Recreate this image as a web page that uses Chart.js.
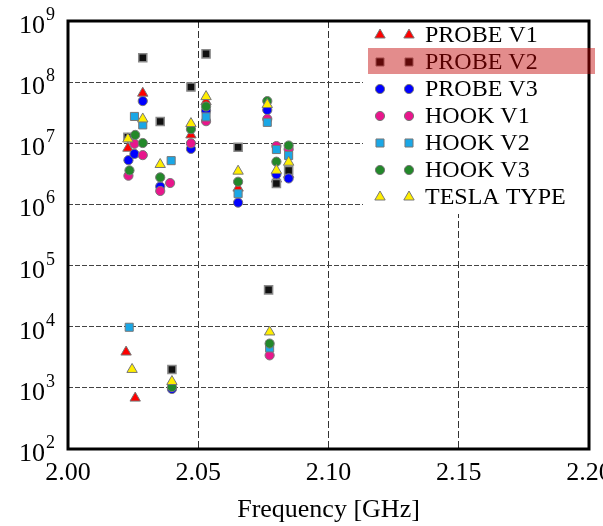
<!DOCTYPE html>
<html>
<head>
<meta charset="utf-8">
<script src="https://cdn.jsdelivr.net/npm/chart.js@4"></script>
<style>
  html, body { margin: 0; padding: 0; background: #fff; }
</style>
</head>
<body>
<canvas id="chart" width="603" height="526"></canvas>
<script>
// Values (frequency in GHz, quality factor)
const seriesNames = ['PROBE V1', 'PROBE V2', 'PROBE V3', 'HOOK V1', 'HOOK V2', 'HOOK V3', 'TESLA TYPE'];

const probeV1Freq = [2.0223, 2.0258, 2.0230, 2.0287, 2.0472, 2.0530, 2.0653, 2.0800, 2.0847];
const probeV1Q    = [3.85e3, 6.8e2, 8.3e6, 6.6e7, 1.37e7, 4.8e7, 1.85e6, 2.6e6, 3.1e6];

const probeV2Freq = [2.0230, 2.0287, 2.0354, 2.0399, 2.0472, 2.0530, 2.0653, 2.0770, 2.0800, 2.0847];
const probeV2Q    = [1.25e7, 2.5e8, 2.27e7, 2.0e3, 8.3e7, 2.9e8, 8.6e6, 4.0e4, 2.2e6, 3.6e6];

const probeV3Freq = [2.0232, 2.0255, 2.0287, 2.0354, 2.0399, 2.0472, 2.0530, 2.0653, 2.0765, 2.0800, 2.0847];
const probeV3Q    = [5.3e6, 6.7e6, 4.9e7, 1.96e6, 9.6e2, 8.1e6, 3.4e7, 1.07e6, 3.5e7, 3.1e6, 2.66e6];

const hookV1Freq = [2.0232, 2.0255, 2.0287, 2.0354, 2.0392, 2.0472, 2.0530, 2.0765, 2.0774, 2.0800, 2.0847];
const hookV1Q    = [2.95e6, 9.8e6, 6.4e6, 1.66e6, 2.24e6, 1.0e7, 2.3e7, 2.5e7, 3.4e3, 9.0e6, 8.0e6];

const hookV2Freq = [2.0235, 2.0255, 2.0287, 2.0396, 2.0530, 2.0653, 2.0765, 2.0774, 2.0800, 2.0847];
const hookV2Q    = [9.8e3, 2.75e7, 2.0e7, 5.2e6, 2.7e7, 1.5e6, 2.2e7, 4.5e3, 7.9e6, 6.3e6];

const hookV3Freq = [2.0236, 2.0258, 2.0287, 2.0354, 2.0399, 2.0472, 2.0530, 2.0653, 2.0765, 2.0774, 2.0800, 2.0847];
const hookV3Q    = [3.6e6, 1.37e7, 1.01e7, 2.77e6, 1.03e3, 1.7e7, 4.0e7, 2.35e6, 4.9e7, 5.3e3, 5.0e6, 9.2e6];

const teslaFreq = [2.0230, 2.0246, 2.0287, 2.0354, 2.0399, 2.0472, 2.0530, 2.0653, 2.0765, 2.0774, 2.0800, 2.0847];
const teslaQ    = [1.18e7, 2.0e3, 2.5e7, 4.5e6, 1.27e3, 2.1e7, 5.8e7, 3.5e6, 4.3e7, 8.2e3, 3.6e6, 4.9e6];

const decadeTicks = [1e2, 1e3, 1e4, 1e5, 1e6, 1e7, 1e8, 1e9];
const decadeExp   = ['2', '3', '4', '5', '6', '7', '8', '9'];
const freqTicks   = [2.00, 2.05, 2.10, 2.15, 2.20];

const SERIF = '"Liberation Serif", "DejaVu Serif", serif';

// marker look for each series
const markers = [
    { style: 'triangle', radius: 6,   fill: '#ff0000', border: '#777777' },
    { style: 'rect',     radius: 5.7, fill: '#111111', border: '#8a8a8a' },
    { style: 'circle',   radius: 4.6, fill: '#0000ff', border: '#777777' },
    { style: 'circle',   radius: 4.6, fill: '#e8168c', border: '#777777' },
    { style: 'rect',     radius: 5.7, fill: '#1aa7e6', border: '#777777' },
    { style: 'circle',   radius: 4.6, fill: '#23882a', border: '#777777' },
    { style: 'triangle', radius: 6,   fill: '#ffee00', border: '#777777' }
];

const allFreq = [probeV1Freq, probeV2Freq, probeV3Freq, hookV1Freq, hookV2Freq, hookV3Freq, teslaFreq];
const allQ = [probeV1Q, probeV2Q, probeV3Q, hookV1Q, hookV2Q, hookV3Q, teslaQ];

const datasets = seriesNames.map((name, i) => ({
    label: name,
    data: allFreq[i].map((f, j) => ({ x: f, y: allQ[i][j] })),
    pointStyle: markers[i].style,
    pointRadius: markers[i].radius,
    pointHoverRadius: markers[i].radius,
    backgroundColor: markers[i].fill,
    borderColor: markers[i].border,
    borderWidth: i === 1 ? 1.5 : 1,
    showLine: false,
    order: seriesNames.length - i   // later series drawn on top
}));

// frame, y labels with exponents and the legend box
const decorPlugin = {
    id: 'decor',
    afterDraw(chart) {
        const ctx = chart.ctx;
        const area = chart.chartArea;
        const yScale = chart.scales.y;

        ctx.save();
        // y tick labels 10^n
        ctx.fillStyle = '#000';
        decadeTicks.forEach((v, i) => {
            const y = yScale.getPixelForValue(v);
            ctx.font = '26px ' + SERIF;
            ctx.textAlign = 'right';
            ctx.textBaseline = 'alphabetic';
            ctx.fillText('10', 45, y + 12);
            ctx.font = '18px ' + SERIF;
            ctx.textAlign = 'left';
            ctx.fillText(decadeExp[i], 46, y - 1);
        });

        // legend
        const lx = 363, ly = area.top + 1, lw = area.right - 364, lh = 192;
        ctx.fillStyle = '#fff';
        ctx.fillRect(lx, ly, lw, lh);
        seriesNames.forEach((name, i) => {
            const cy = 35 + i * 27;
            const m = markers[i];
            ctx.fillStyle = m.fill;
            ctx.strokeStyle = m.border;
            ctx.lineWidth = 1;
            [380, 409].forEach(px => {
                Chart.helpers.drawPoint(ctx, {
                    pointStyle: m.style, radius: m.radius, rotation: 0, borderWidth: 1
                }, px, cy);
            });
            ctx.fillStyle = '#000';
            ctx.font = '24px ' + SERIF;
            ctx.textAlign = 'left';
            ctx.textBaseline = 'middle';
            ctx.fillText(name, 425, cy + 1);
        });

        // plot frame
        ctx.strokeStyle = '#000';
        ctx.lineWidth = 3;
        ctx.strokeRect(area.left, area.top, area.right - area.left, area.bottom - area.top);

        // highlighted legend row
        ctx.fillStyle = 'rgba(193, 0, 0, 0.45)';
        ctx.fillRect(368, 48, 227, 26);
        ctx.restore();
    }
};

new Chart(document.getElementById('chart'), {
    type: 'scatter',
    data: { datasets: datasets },
    options: {
        responsive: false,
        animation: false,
        layout: { padding: { top: 21, right: 14, left: 0, bottom: 0 } },
        plugins: {
            legend: { display: false },
            tooltip: { enabled: false }
        },
        scales: {
            x: {
                type: 'linear',
                min: 2.0,
                max: 2.2,
                afterBuildTicks: s => { s.ticks = freqTicks.map(v => ({ value: v })); },
                afterFit: s => { s.height = 77; s.paddingLeft = 0; s.paddingRight = 0; },
                ticks: {
                    color: '#000',
                    padding: 9,
                    maxRotation: 0,
                    font: { family: SERIF, size: 26 },
                    callback: v => Number(v).toFixed(2)
                },
                grid: { color: '#333', lineWidth: 1, drawTicks: false },
                border: { display: false, dash: [7, 3] },
                title: {
                    display: true,
                    text: 'Frequency [GHz]',
                    color: '#000',
                    font: { family: SERIF, size: 26 },
                    padding: { top: 0, bottom: 0 }
                }
            },
            y: {
                type: 'logarithmic',
                min: 1e2,
                max: 1e9,
                afterBuildTicks: s => { s.ticks = decadeTicks.map(v => ({ value: v })); },
                afterFit: s => { s.width = 68; s.paddingTop = 0; s.paddingBottom = 0; },
                ticks: { display: false },
                grid: { color: '#444', lineWidth: 1, drawTicks: false },
                border: { display: false, dash: [5, 2] }
            }
        }
    },
    plugins: [decorPlugin]
});
</script>
</body>
</html>
